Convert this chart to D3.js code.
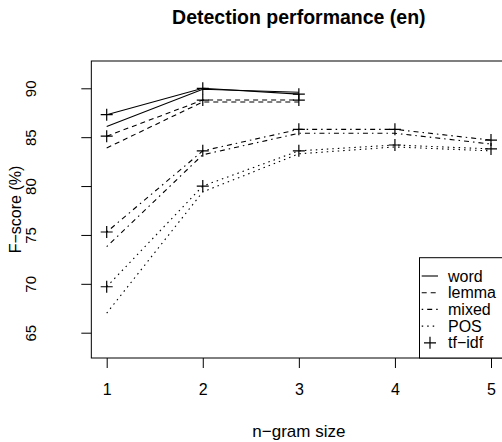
<!DOCTYPE html>
<html>
<head>
<meta charset="utf-8">
<script src="https://cdn.jsdelivr.net/npm/d3@7"></script>
<style>
  body { margin: 0; background: #fff; }
  svg text { font-family: "Liberation Sans", Arial, sans-serif; fill: #000; }
</style>
</head>
<body>
<svg id="chart" width="502" height="442"></svg>
<script>
// n-gram sizes and F-scores
const ngram = [1, 2, 3, 4, 5];
const word = [86.1, 89.9, 89.6];
const wordTfidf = [87.3, 90.0, 89.4];
const lemma = [83.9, 88.6, 88.6];
const lemmaTfidf = [85.1, 88.8, 88.8];
const mixed = [73.8, 83.2, 85.4, 85.4, 84.3];
const mixedTfidf = [75.3, 83.6, 85.8, 85.8, 84.7];
const pos = [67.0, 79.4, 83.3, 84.0, 83.6];
const posTfidf = [69.7, 80.0, 83.6, 84.2, 83.8];
const yTicks = [65, 70, 75, 80, 85, 90];
const legendLabels = ['word', 'lemma', 'mixed', 'POS', 'tf\u2212idf'];

const dash = {solid: null, dashed: '5,4', dotdash: '1.5,4,5,4', dotted: '1.5,4'};
const series = [
  {vals: word, lty: 'solid', pts: false},
  {vals: wordTfidf, lty: 'solid', pts: true},
  {vals: lemma, lty: 'dashed', pts: false},
  {vals: lemmaTfidf, lty: 'dashed', pts: true},
  {vals: mixed, lty: 'dotdash', pts: false},
  {vals: mixedTfidf, lty: 'dotdash', pts: true},
  {vals: pos, lty: 'dotted', pts: false},
  {vals: posTfidf, lty: 'dotted', pts: true}
];

let svg = d3.select('#chart');
let sx = d3.scaleLinear().domain([1, 5]).range([106.7, 491]);
let sy = d3.scaleLinear().domain([65, 90]).range([332.7, 88.3]);

let box = {x0: sx(0.84), x1: sx(5.16), y0: 61, y1: 358};

// x axis
let xg = svg.append('g')
  .attr('transform', `translate(0,${box.y1})`)
  .call(d3.axisBottom(sx).tickValues(ngram).tickFormat(d3.format('d')).tickSize(10).tickPadding(16));
xg.select('.domain').remove();
xg.selectAll('line').attr('stroke', '#000');
xg.selectAll('text').attr('font-size', 16).attr('font-family', null);

// y axis, labels parallel to axis like R
let yg = svg.append('g')
  .attr('transform', `translate(${box.x0},0)`)
  .call(d3.axisLeft(sy).tickValues(yTicks).tickSize(10));
yg.select('.domain').remove();
yg.selectAll('line').attr('stroke', '#000');
yg.selectAll('text')
  .attr('font-size', 15).attr('font-family', null)
  .attr('text-anchor', 'middle')
  .attr('x', null).attr('dy', null)
  .attr('transform', `translate(${36 - box.x0},0) rotate(-90)`);

// plot box
svg.append('rect')
  .attr('x', box.x0).attr('y', box.y0)
  .attr('width', box.x1 - box.x0).attr('height', box.y1 - box.y0)
  .attr('fill', 'none').attr('stroke', '#000').attr('stroke-width', 1);

let line = d3.line().x((v, i) => sx(ngram[i])).y(v => sy(v));

for (let s of series) {
  svg.append('path')
    .attr('d', line(s.vals))
    .attr('fill', 'none')
    .attr('stroke', '#000')
    .attr('stroke-width', 1.1)
    .attr('stroke-dasharray', dash[s.lty]);
  if (s.pts) {
    svg.append('g').selectAll('path')
      .data(s.vals)
      .join('path')
      .attr('d', (v, i) => {
        let px = sx(ngram[i]), py = sy(v);
        return `M${px - 6},${py}H${px + 6}M${px},${py - 6}V${py + 6}`;
      })
      .attr('stroke', '#000')
      .attr('stroke-width', 1.2);
  }
}

// titles
svg.append('text')
  .attr('x', (box.x0 + box.x1) / 2).attr('y', 24)
  .attr('text-anchor', 'middle')
  .attr('font-size', 19.5).attr('font-weight', 'bold')
  .text('Detection performance (en)');
svg.append('text')
  .attr('x', (box.x0 + box.x1) / 2).attr('y', 437)
  .attr('text-anchor', 'middle')
  .attr('font-size', 17)
  .text('n\u2212gram size');
svg.append('text')
  .attr('transform', `translate(21,${(box.y0 + box.y1) / 2}) rotate(-90)`)
  .attr('text-anchor', 'middle')
  .attr('font-size', 16)
  .text('F\u2212score (%)');

// legend, bottom right
let leg = svg.append('g');
leg.append('rect')
  .attr('x', 419.5).attr('y', 257.7)
  .attr('width', box.x1 - 419.5).attr('height', box.y1 - 257.7)
  .attr('fill', '#fff').attr('stroke', '#000');
let legLty = ['solid', 'dashed', 'dotdash', 'dotted', null];
legendLabels.forEach((lab, i) => {
  let cy = 276 + i * 16.7;
  if (legLty[i]) {
    leg.append('line')
      .attr('x1', 421.7).attr('x2', 438).attr('y1', cy).attr('y2', cy)
      .attr('stroke', '#000').attr('stroke-width', 1.1)
      .attr('stroke-dasharray', dash[legLty[i]]);
  } else {
    leg.append('path')
      .attr('d', `M${430 - 6},${cy}H${430 + 6}M430,${cy - 6}V${cy + 6}`)
      .attr('stroke', '#000').attr('stroke-width', 1.2);
  }
  leg.append('text')
    .attr('x', 448).attr('y', cy).attr('dy', '0.35em')
    .attr('font-size', 16)
    .text(lab);
});
</script>
</body>
</html>
